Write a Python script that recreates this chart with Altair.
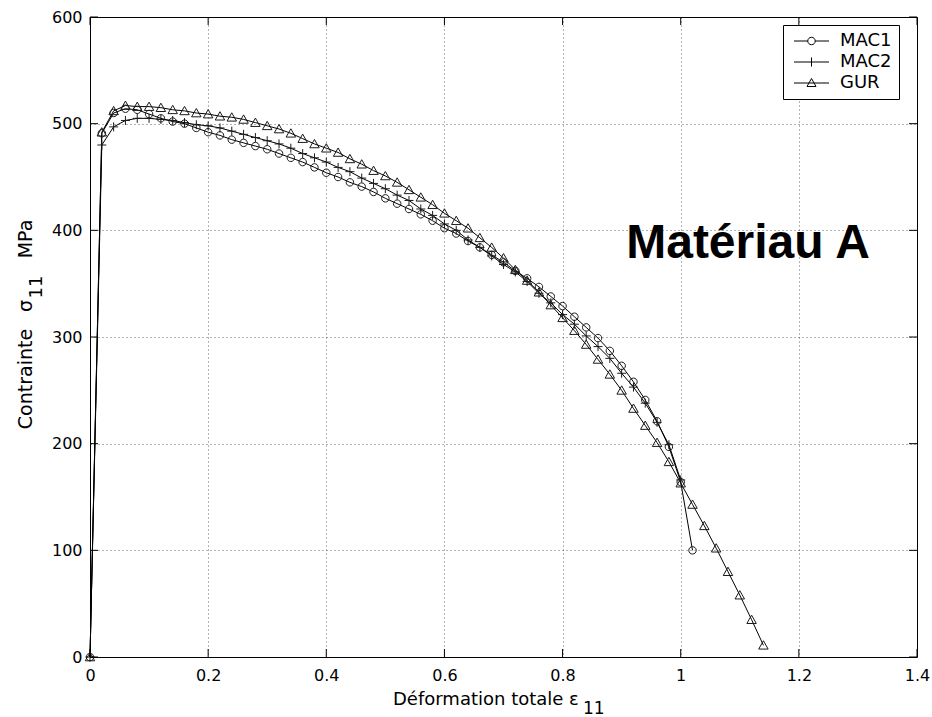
import altair as alt
import pandas as pd

# ---- data ----
x_mac1 = [0.00, 0.02, 0.04, 0.06, 0.08, 0.10, 0.12, 0.14, 0.16, 0.18,
          0.20, 0.22, 0.24, 0.26, 0.28, 0.30, 0.32, 0.34, 0.36, 0.38,
          0.40, 0.42, 0.44, 0.46, 0.48, 0.50, 0.52, 0.54, 0.56, 0.58,
          0.60, 0.62, 0.64, 0.66, 0.68, 0.70, 0.72, 0.74, 0.76, 0.78,
          0.80, 0.82, 0.84, 0.86, 0.88, 0.90, 0.92, 0.94, 0.96, 0.98,
          1.00, 1.02]
mac1 = [0, 491, 510, 514, 513, 509, 505, 502, 500, 496,
        492, 489, 485, 482, 479, 476, 472, 468, 464, 459,
        454, 450, 445, 441, 436, 430, 425, 420, 415, 409,
        402, 397, 390, 384, 377, 370, 362, 355, 347, 338,
        329, 319, 309, 299, 287, 273, 258, 241, 221, 197,
        164, 100]

x_mac2 = [0.00, 0.02, 0.04, 0.06, 0.08, 0.10, 0.12, 0.14, 0.16, 0.18,
          0.20, 0.22, 0.24, 0.26, 0.28, 0.30, 0.32, 0.34, 0.36, 0.38,
          0.40, 0.42, 0.44, 0.46, 0.48, 0.50, 0.52, 0.54, 0.56, 0.58,
          0.60, 0.62, 0.64, 0.66, 0.68, 0.70, 0.72, 0.74, 0.76, 0.78,
          0.80, 0.82, 0.84, 0.86, 0.88, 0.90, 0.92, 0.94, 0.96, 0.98,
          1.00]
mac2 = [0, 480, 497, 503, 505, 505, 504, 503, 501, 499,
        498, 496, 493, 490, 487, 484, 481, 477, 472, 468,
        464, 459, 455, 449, 444, 439, 433, 428, 420, 414,
        406, 400, 391, 384, 376, 368, 361, 352, 341, 332,
        321, 312, 301, 291, 280, 266, 253, 238, 220, 199,
        166]

x_gur = [0.00, 0.02, 0.04, 0.06, 0.08, 0.10, 0.12, 0.14, 0.16, 0.18,
         0.20, 0.22, 0.24, 0.26, 0.28, 0.30, 0.32, 0.34, 0.36, 0.38,
         0.40, 0.42, 0.44, 0.46, 0.48, 0.50, 0.52, 0.54, 0.56, 0.58,
         0.60, 0.62, 0.64, 0.66, 0.68, 0.70, 0.72, 0.74, 0.76, 0.78,
         0.80, 0.82, 0.84, 0.86, 0.88, 0.90, 0.92, 0.94, 0.96, 0.98,
         1.00, 1.02, 1.04, 1.06, 1.08, 1.10, 1.12, 1.14]
gur = [0, 492, 512, 517, 516, 516, 515, 513, 512, 510,
       509, 507, 506, 504, 501, 498, 495, 491, 486, 481,
       477, 473, 467, 462, 456, 451, 445, 438, 431, 424,
       416, 409, 402, 393, 384, 374, 363, 353, 342, 330,
       318, 306, 293, 279, 265, 250, 233, 217, 201, 183,
       163, 143, 123, 102, 80, 58, 35, 11]

series_names = ["MAC1", "MAC2", "GUR"]
x_ticks = [0, 0.2, 0.4, 0.6, 0.8, 1.0, 1.2, 1.4]
y_ticks = [0, 100, 200, 300, 400, 500, 600]

annotation = ["Matériau A"]
x_title = ["Déformation totale ε", "11"]
y_title = ["Contrainte", "σ", "11", "MPa"]

# ---- build table ----
rows = []
for name, xs, ys in zip(series_names, [x_mac1, x_mac2, x_gur], [mac1, mac2, gur]):
    for xv, yv in zip(xs, ys):
        rows.append({"series": name, "x": xv, "y": yv})
df = pd.DataFrame(rows)
leg_df = pd.DataFrame({"name": series_names})

W, H = 827, 640
FONT = "DejaVu Sans"

xscale = alt.Scale(domain=[0, 1.4], nice=False, zero=False)
yscale = alt.Scale(domain=[0, 600], nice=False, zero=False)

grid_common = dict(grid=True, gridDash=[1, 3], gridColor="#000000", gridOpacity=0.6,
                   gridWidth=1, ticks=False, domain=False, title=None, labelFlush=False,
                   labelFont=FONT, labelFontSize=16, labelColor="black")

x_axis = alt.Axis(values=x_ticks, format="~r", labelPadding=10, **grid_common)
y_axis = alt.Axis(values=y_ticks, format="d", labelPadding=8, **grid_common)
x_enc = alt.X("x:Q", scale=xscale, axis=x_axis)
y_enc = alt.Y("y:Q", scale=yscale, axis=y_axis)

# marker paths (unit box -1..1)
circ = "M-0.83,0A0.83,0.83,0,1,1,0.83,0A0.83,0.83,0,1,1,-0.83,0Z"
plus = "M-1,0L1,0M0,-1L0,1"
tri = "M-1.05,0.85L0,-1L1.05,0.85Z"

# legend symbols: line segment + marker (size 100 -> 5 px per unit)
leg_circ = "M-1,0L1.75,0M3.25,0L6,0M1.75,0A0.75,0.75,0,1,1,3.25,0A0.75,0.75,0,1,1,1.75,0Z"
leg_plus = "M-1,0L6,0M2.5,-0.9L2.5,0.9"
leg_tri = "M-1,0L6,0M1.6,0.7L2.5,-0.9L3.4,0.7Z"

lines = alt.Chart(df).mark_line(color="black", strokeWidth=1).encode(
    x=x_enc, y=y_enc, detail="series:N", order="x:Q"
)

points = alt.Chart(df).mark_point(filled=False, color="#1a1a1a", strokeWidth=1, size=81, opacity=1).encode(
    x=x_enc,
    y=y_enc,
    shape=alt.Shape(
        "series:N",
        scale=alt.Scale(domain=series_names, range=[circ, plus, tri]),
        legend=None,
    ),
)

# legend carrier (drawn off-canvas; only its legend is visible)
legend_layer = alt.Chart(leg_df).mark_point(filled=False, color="black", strokeWidth=1, size=100, opacity=1).encode(
    x=alt.value(-3000), y=alt.value(-3000),
    shape=alt.Shape(
        "name:N",
        scale=alt.Scale(domain=series_names, range=[leg_circ, leg_plus, leg_tri]),
        legend=alt.Legend(
            title=None, orient="none", legendX=693, legendY=8,
            padding=7, rowPadding=3, labelOffset=32, symbolSize=100,
            labelFont=FONT, labelFontSize=18, labelColor="black",
            labelExpr="datum.label + '\u00a0\u00a0\u00a0\u00a0'",
            strokeColor="black", fillColor="white", cornerRadius=0,
            symbolStrokeColor="black", symbolStrokeWidth=1,
            symbolFillColor="transparent", symbolOpacity=1,
        ),
    ),
)

# inward axis ticks on all four sides
tk = 8
xt = pd.DataFrame({"x": x_ticks})
yt = pd.DataFrame({"y": y_ticks})
tick_b = alt.Chart(xt).mark_rule(color="black", strokeWidth=1).encode(x=x_enc, y=alt.value(H), y2=alt.value(H - tk))
tick_t = alt.Chart(xt).mark_rule(color="black", strokeWidth=1).encode(x=x_enc, y=alt.value(0), y2=alt.value(tk))
tick_l = alt.Chart(yt).mark_rule(color="black", strokeWidth=1).encode(y=y_enc, x=alt.value(0), x2=alt.value(tk))
tick_r = alt.Chart(yt).mark_rule(color="black", strokeWidth=1).encode(y=y_enc, x=alt.value(W), x2=alt.value(W - tk))

def label(txt, px, py, size=18, angle=0, align="left", weight="normal", font=FONT):
    return alt.Chart(pd.DataFrame({"t": [txt]})).mark_text(
        font=font, fontSize=size, angle=angle, align=align, baseline="alphabetic",
        fontWeight=weight, color="black"
    ).encode(text="t:N", x=alt.value(px), y=alt.value(py))

texts = [
    label(annotation[0], 658, 241, size=48, align="center", weight="bold", font="Liberation Sans"),
    label(x_title[0], 303, 688, size=18, align="left"),
    label(x_title[1], 493, 697, size=17, align="left"),
    label(y_title[0], -58, 362, size=19, angle=270, align="center"),
    label(y_title[1], -58, 289, size=19, angle=270, align="center"),
    label(y_title[2], -48, 270, size=18, angle=270, align="center"),
    label(y_title[3], -58, 222, size=19, angle=270, align="center"),
]

chart = alt.layer(lines, points, legend_layer, tick_b, tick_t, tick_l, tick_r, *texts).resolve_scale(
    shape="independent"
).properties(
    width=W, height=H,
    autosize=alt.AutoSizeParams(type="none"),
    padding={"left": 90, "top": 17, "right": 15, "bottom": 60},
    background="white",
).configure_view(stroke="black", strokeWidth=1)

chart.save("out.html", embed_options={"renderer": "svg", "actions": False})
